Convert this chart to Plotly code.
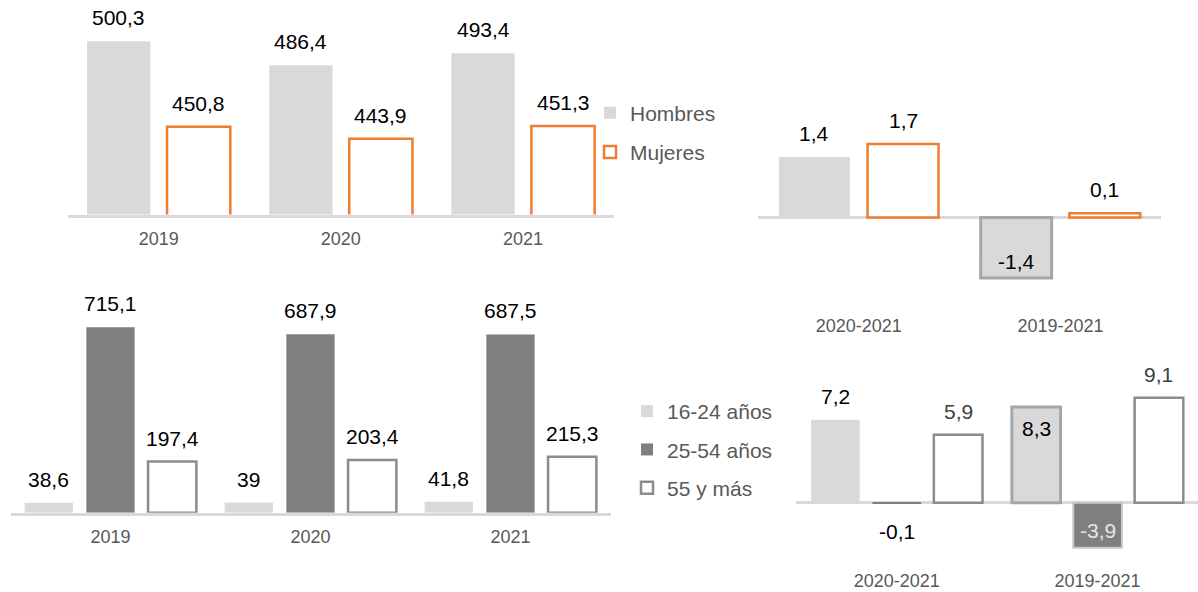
import plotly.graph_objects as go

# ---- data -------------------------------------------------------------
years = ["2019", "2020", "2021"]
periods = ["2020-2021", "2019-2021"]

hombres = [500.3, 486.4, 493.4]
mujeres = [450.8, 443.9, 451.3]
hombres_var = [1.4, -1.4]
mujeres_var = [1.7, 0.1]

edad_16_24 = [38.6, 39.0, 41.8]
edad_25_54 = [715.1, 687.9, 687.5]
edad_55_mas = [197.4, 203.4, 215.3]
edad_16_24_var = [7.2, 8.3]
edad_25_54_var = [-0.1, -3.9]
edad_55_mas_var = [5.9, 9.1]

# ---- styling ------------------------------------------------------------
W, H = 1198, 592
FONT = "Liberation Sans, Arial, sans-serif"
LIGHT = "#D9D9D9"
DARK = "#7F7F7F"
ORANGE = "#ED7D31"
OUTLINE = "#8C8C8C"
HIGHLIGHT = "#A6A6A6"
AXIS_TXT = "#595959"
LABEL_SIZE = 21
TICK_SIZE = 18


def fx(px):
    return px / W


def fy(py):
    return 1 - py / H


def fmt(v):
    return f"{v:g}".replace(".", ",")


def geometry(n, gap, groupgap):
    """Bar width and left offsets (category units) for n side-by-side bars."""
    slot = (1 - gap) / n
    width = slot * (1 - groupgap)
    offsets = [-(1 - gap) / 2 + i * slot + slot * groupgap / 2 for i in range(n)]
    return width, offsets


fig = go.Figure()
annotations = []


def add_bar(x, y, xa, ya, name, fill, line_color, line_width, width, offset,
            modes=None, text_color="black", inside_color="black",
            legend=None, clip=False):
    fig.add_trace(go.Bar(
        x=x, y=y, xaxis=xa, yaxis=ya, name=name,
        width=[width] * len(x), offset=[offset] * len(x),
        marker=dict(color=fill, line=dict(color=line_color, width=line_width)),
        cliponaxis=clip,
        showlegend=legend is not None, legend=legend or "legend",
        legendgroup=name, hoverinfo="skip",
    ))
    # value labels, placed at each bar's end
    modes = modes or ["out"] * len(y)
    for i, (v, m) in enumerate(zip(y, modes)):
        if m == "out":
            anchor, shift, col = ("bottom", 10, text_color) if v >= 0 else ("top", -14, text_color)
        else:
            anchor, shift, col = ("top", -8, inside_color) if v >= 0 else ("bottom", 3.5, inside_color)
        annotations.append(dict(
            xref=xa, yref=ya, x=i + offset + width / 2, y=v,
            text=fmt(v), showarrow=False, xanchor="center", yanchor=anchor,
            yshift=shift, font=dict(family=FONT, size=LABEL_SIZE, color=col),
        ))


# top-left: population by sex
w, offs = geometry(2, 0.122, 0.209)
add_bar(years, hombres, "x", "y", "Hombres", LIGHT, LIGHT, 0, w, offs[0],
        legend="legend", clip=True)
add_bar(years, mujeres, "x", "y", "Mujeres", "white", ORANGE, 2.5, w, offs[1],
        legend="legend", clip=True)

# top-right: variation by sex
w, offs = geometry(2, 0.121, 0.2)
add_bar(periods, hombres_var, "x2", "y2", "Hombres", LIGHT,
        [LIGHT, HIGHLIGHT], [0, 3], w, offs[0], modes=["out", "in"])
add_bar(periods, mujeres_var, "x2", "y2", "Mujeres", "white", ORANGE, 2.5,
        w, offs[1])

# bottom-left: population by age group
w, offs = geometry(3, 0.0745, 0.217)
add_bar(years, edad_16_24, "x3", "y3", "16-24 años", LIGHT, LIGHT, 0, w, offs[0],
        legend="legend2")
add_bar(years, edad_25_54, "x3", "y3", "25-54 años", DARK, DARK, 0, w, offs[1],
        legend="legend2")
add_bar(years, edad_55_mas, "x3", "y3", "55 y más", "white", OUTLINE, 2.5, w,
        offs[2], legend="legend2")

# bottom-right: variation by age group
w, offs = geometry(3, 0.083, 0.207)
add_bar(periods, edad_16_24_var, "x4", "y4", "16-24 años", LIGHT,
        [LIGHT, HIGHLIGHT], [0, 3], w, offs[0], modes=["out", "in"])
add_bar(periods, edad_25_54_var, "x4", "y4", "25-54 años", DARK,
        [DARK, "#C8C8C8"], [0, 2], w, offs[1], modes=["out", "in"],
        inside_color="#E6E6E6")
add_bar(periods, edad_55_mas_var, "x4", "y4", "55 y más", "white", OUTLINE, 2.5,
        w, offs[2], text_color="#404040")

xcommon = dict(type="category", ticks="", showgrid=False, zeroline=False,
               tickfont=dict(family=FONT, size=TICK_SIZE, color=AXIS_TXT),
               fixedrange=True)
ycommon = dict(showgrid=False, showticklabels=False, ticks="", fixedrange=True)
legend_font = dict(family=FONT, size=LABEL_SIZE, color=AXIS_TXT)

fig.update_layout(
    width=W, height=H, margin=dict(l=0, r=0, t=0, b=0),
    paper_bgcolor="white", plot_bgcolor="white",
    barmode="overlay",
    font=dict(family=FONT),
    annotations=annotations,
    xaxis=dict(domain=[fx(67.6), fx(614.1)], anchor="y", showline=True,
               linecolor=LIGHT, linewidth=2.5, ticklabelstandoff=6, **xcommon),
    yaxis=dict(domain=[fy(214.5), 1.0], anchor="x", range=[400, 524.2],
               zeroline=False, **ycommon),
    xaxis2=dict(domain=[fx(757.8), fx(1161.4)], anchor="y2", showline=False,
                **xcommon),
    yaxis2=dict(domain=[fy(313), fy(100)], anchor="x2", range=[-2.206, 2.714],
                zeroline=True, zerolinecolor=LIGHT, zerolinewidth=2.5, **ycommon),
    xaxis3=dict(domain=[fx(10.5), fx(610.5)], anchor="y3", showline=True,
                linecolor=LIGHT, linewidth=2.5, ticklabelstandoff=6, **xcommon),
    yaxis3=dict(domain=[fy(512.7), fy(290)], anchor="x3", range=[0, 858.8],
                zeroline=False, **ycommon),
    xaxis4=dict(domain=[fx(796.4), 1.0], anchor="y4", showline=False, **xcommon),
    yaxis4=dict(domain=[fy(568), fy(370)], anchor="x4", range=[-5.668, 11.519],
                zeroline=True, zerolinecolor=LIGHT, zerolinewidth=2.5, **ycommon),
    legend=dict(x=fx(590), y=fy(92.5), xanchor="left", yanchor="top",
                bgcolor="rgba(0,0,0,0)", tracegroupgap=9, font=legend_font),
    legend2=dict(x=fx(627), y=fy(391), xanchor="left", yanchor="top",
                 bgcolor="rgba(0,0,0,0)", tracegroupgap=8, font=legend_font),
)

fig.write_html("out.html", config={"displayModeBar": False})
